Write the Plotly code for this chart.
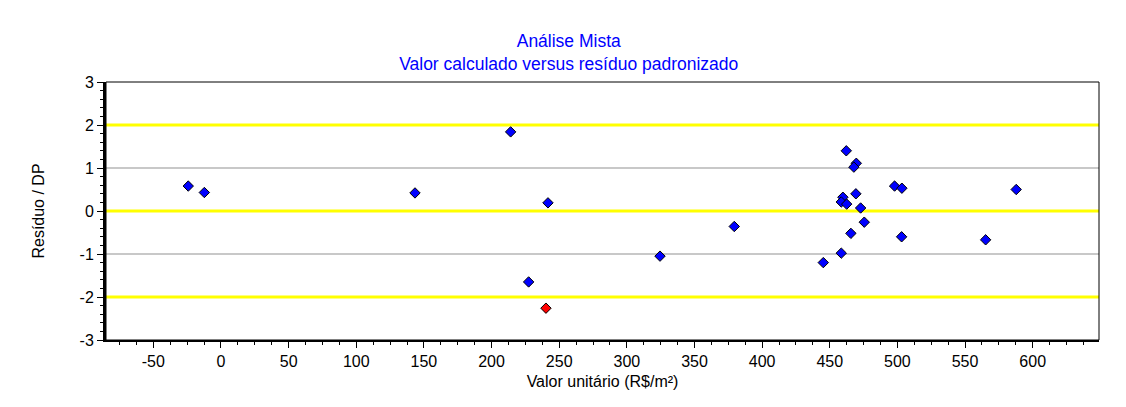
import plotly.graph_objects as go

# Data
valor_calculado = [-24.2, -12.3, 143.4, 214.1, 241.7, 227.4, 324.5, 379.4,
                   462.2, 469.6, 467.8, 497.9, 503.3, 469.3, 459.7, 458.5,
                   462.5, 472.8, 475.5, 465.6, 503.1, 458.5, 445.2, 587.8, 565.2]
residuo_dp = [0.58, 0.43, 0.42, 1.84, 0.19, -1.65, -1.05, -0.36,
              1.40, 1.11, 1.02, 0.58, 0.53, 0.40, 0.32, 0.21,
              0.16, 0.07, -0.26, -0.52, -0.60, -0.98, -1.20, 0.50, -0.67]
outlier_x = [240.2]
outlier_y = [-2.26]

x_ticks = [-50, 0, 50, 100, 150, 200, 250, 300, 350, 400, 450, 500, 550, 600]
x_tick_labels = ["-50", "0", "50", "100", "150", "200", "250", "300", "350",
                 "400", "450", "500", "550", "600"]
y_ticks = [-3, -2, -1, 0, 1, 2, 3]
y_tick_labels = ["-3", "-2", "-1", "0", "1", "2", "3"]
yellow_lines = [-2, 0, 2]
gray_lines = [-1, 1]

FONT = "Liberation Sans, Arial, sans-serif"
FS = 16

fig = go.Figure()
fig.add_trace(go.Scatter(
    x=valor_calculado, y=residuo_dp, mode="markers",
    marker=dict(symbol="diamond", size=8, color="#0000FF",
                line=dict(color="#000000", width=1)),
    showlegend=False, hoverinfo="x+y"))
fig.add_trace(go.Scatter(
    x=outlier_x, y=outlier_y, mode="markers",
    marker=dict(symbol="diamond", size=8, color="#FF0000",
                line=dict(color="#000000", width=1)),
    showlegend=False, hoverinfo="x+y"))

shapes = []
for v in gray_lines:
    shapes.append(dict(type="line", xref="paper", yref="y", x0=0, x1=1, y0=v, y1=v,
                       line=dict(color="#C8C8C8", width=2), layer="below"))
for v in yellow_lines:
    shapes.append(dict(type="line", xref="paper", yref="y", x0=0, x1=1, y0=v, y1=v,
                       line=dict(color="#FFFF00", width=3), layer="below"))
# thin frame (top / right)
shapes.append(dict(type="rect", xref="paper", yref="paper", x0=0, x1=1, y0=0, y1=1,
                   line=dict(color="#000000", width=1), layer="above"))

fig.update_layout(
    width=1126, height=407,
    margin=dict(l=98, r=35, t=74, b=75, autoexpand=False),
    paper_bgcolor="white", plot_bgcolor="white",
    font=dict(family=FONT, size=FS, color="#000000"),
    title=dict(text="Análise Mista<br>Valor calculado versus resíduo padronizado",
               x=0.498, xanchor="center", y=0.903, yanchor="top",
               font=dict(family=FONT, size=17.5, color="#0000FF")),
    shapes=shapes,
)
fig.update_xaxes(
    range=[-85, 649], showgrid=False, zeroline=False, automargin=False,
    showline=True, linecolor="#000000", linewidth=2,
    tickmode="array", tickvals=x_ticks, ticktext=x_tick_labels,
    ticks="outside", ticklen=6, tickcolor="#000000", tickwidth=1,
    minor=dict(dtick=12.5, tick0=0, ticks="outside", ticklen=3, tickcolor="#000000", showgrid=False),
    title=dict(text="Valor unitário (R$/m²)", font=dict(family=FONT, size=FS), standoff=7),
    tickfont=dict(family=FONT, size=FS),
)
fig.update_yaxes(
    range=[-3, 3], showgrid=False, zeroline=False, automargin=False,
    showline=True, linecolor="#000000", linewidth=3,
    tickmode="array", tickvals=y_ticks, ticktext=y_tick_labels,
    ticks="outside", ticklen=6, tickcolor="#000000", tickwidth=1,
    minor=dict(dtick=0.2, tick0=0, ticks="outside", ticklen=3, tickcolor="#000000", showgrid=False),
    title=dict(text="Resíduo / DP", font=dict(family=FONT, size=FS), standoff=31),
    tickfont=dict(family=FONT, size=FS),
)

fig.write_html("out.html")
